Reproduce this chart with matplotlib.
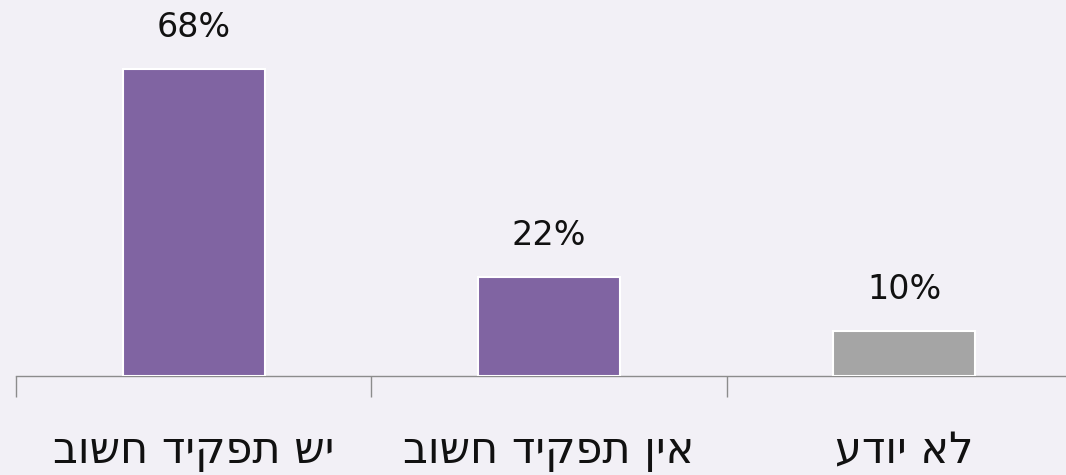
import matplotlib
matplotlib.use("Agg")
import matplotlib.pyplot as plt

# data
categories = ["יש תפקיד חשוב", "אין תפקיד חשוב", "לא יודע"]
values = [68, 22, 10]
bar_colors = ["#8064A2", "#8064A2", "#A5A5A5"]

BG = "#F2F0F6"

plt.rcParams['font.family'] = ['DejaVu Sans']

fig = plt.figure(figsize=(10.66, 4.75), dpi=100, facecolor=BG)
# axis line sits 99 px above the bottom, right boundary tick falls outside figure
ax = fig.add_axes([16 / 1066, 99 / 475, 1066 / 1066, 376 / 475])
ax.set_facecolor(BG)

x = list(range(len(categories)))
bars = ax.bar(x, values, width=0.40, color=bar_colors,
              edgecolor="white", linewidth=1.5, zorder=3)

ax.set_xlim(-0.5, 2.5)
ax.set_ylim(0, 83.4)

ax.bar_label(bars, labels=[f"{v}%" for v in values],
             padding=18, fontsize=24, color="#111111")

# Hebrew is right-to-left; matplotlib has no bidi so reverse for display
ax.set_xticks(x)
ax.set_xticklabels([c[::-1] for c in categories], fontsize=31, color="#111111")
ax.tick_params(axis="x", which="major", length=0, pad=39)
ax.set_xticks([-0.5, 0.5, 1.5, 2.5], minor=True)
ax.tick_params(axis="x", which="minor", length=15, width=1, color="#8C8C8C",
               direction="out")
ax.set_yticks([])

for side in ["top", "right", "left"]:
    ax.spines[side].set_visible(False)
ax.spines["bottom"].set_color("#8C8C8C")
ax.spines["bottom"].set_linewidth(1)

fig.savefig("out.png", dpi=100, facecolor=BG)
